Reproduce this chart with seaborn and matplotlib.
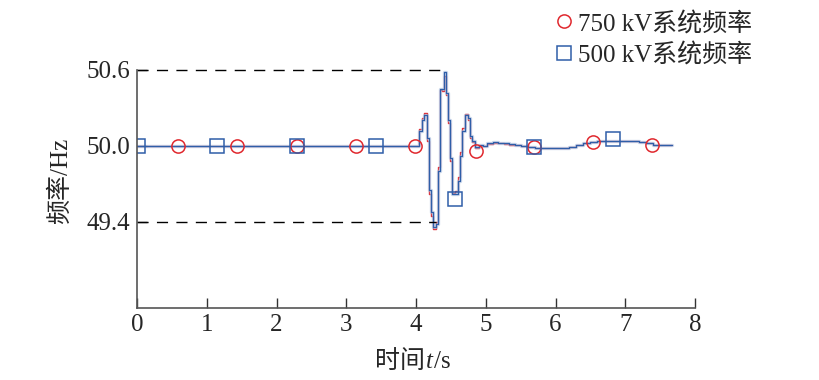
import numpy as np
import pandas as pd
import seaborn as sns
import matplotlib.pyplot as plt

# Временной ряд частоты (ступенчатый)
t = [0, 4.05, 4.08, 4.12, 4.16, 4.19, 4.22, 4.25, 4.28, 4.31, 4.34, 4.37, 4.40, 4.43,
     4.46, 4.49, 4.52, 4.56, 4.60, 4.63, 4.66, 4.70, 4.74, 4.77, 4.80, 4.84, 4.90, 4.96,
     5.02, 5.10, 5.18, 5.26, 5.34, 5.42, 5.50, 5.60, 5.70, 6.20, 6.30, 6.40, 6.50, 6.60,
     6.80, 7.00, 7.20, 7.30, 7.40, 7.50, 7.67]
f500 = [50.0, 50.12, 50.20, 50.24, 50.06, 49.65, 49.48, 49.36, 49.38, 49.80, 50.45, 50.45,
        50.58, 50.42, 50.20, 49.90, 49.62, 49.62, 49.72, 49.92, 50.12, 50.24, 50.22, 50.08,
        50.04, 49.99, 50.01, 50.00, 50.02, 50.03, 50.02, 50.02, 50.015, 50.01, 50.0, 49.99,
        49.985, 49.99, 50.01, 50.025, 50.03, 50.035, 50.04, 50.035, 50.03, 50.02, 50.01,
        50.005, 50.005]
f750 = [50.0, 50.13, 50.22, 50.26, 50.04, 49.62, 49.45, 49.34, 49.40, 49.83, 50.44, 50.43,
        50.55, 50.40, 50.18, 49.88, 49.63, 49.64, 49.75, 49.95, 50.14, 50.25, 50.20, 50.06,
        50.03, 49.98, 50.00, 50.00, 50.015, 50.025, 50.02, 50.015, 50.01, 50.005, 49.995,
        49.99, 49.985, 49.99, 50.005, 50.02, 50.03, 50.035, 50.04, 50.035, 50.03, 50.02,
        50.01, 50.005, 50.005]

# Маркеры
t_circ = [0.59, 1.43, 2.29, 3.14, 3.99, 4.86, 5.69, 6.54, 7.38]
f_circ = [50.0, 50.0, 50.0, 50.0, 50.0, 49.96, 49.99, 50.03, 50.01]
t_sq = [0.01, 1.15, 2.29, 3.43, 4.56, 5.69, 6.83]
f_sq = [50.0, 50.0, 50.0, 50.0, 49.58, 49.99, 50.055]

yticks = [49.4, 50.0, 50.6]
ytick_labels = ['49.4', '50.0', '50.6']
xticks = list(range(0, 9))

sns.set_style('ticks')
plt.rcParams['font.family'] = ['Liberation Serif', 'Noto Sans CJK SC']

red = '#e0282e'
blue = '#2f5ea8'

fig = plt.figure(figsize=(8.19, 3.8), dpi=100)
ax = fig.add_axes([137 / 819, 1 - 308 / 380, (695 - 137) / 819, (308 - 54.6) / 380])

df = pd.DataFrame({'t': t, 'f500': f500, 'f750': f750})
sns.lineplot(data=df, x='t', y='f750', ax=ax, color=red, lw=1.0, drawstyle='steps-post',
             estimator=None)
sns.lineplot(data=df, x='t', y='f500', ax=ax, color='#a9bedf', lw=2.4, drawstyle='steps-post',
             estimator=None, alpha=0.6)
sns.lineplot(data=df, x='t', y='f500', ax=ax, color=blue, lw=0.9, drawstyle='steps-post',
             estimator=None)

ax.plot(t_circ, f_circ, ls='none', marker='o', ms=9.5, mfc='none', mec=red, mew=1.1,
        label='750 kV系统频率')
ax.plot(t_sq, f_sq, ls='none', marker='s', ms=9.5, mfc='none', mec=blue, mew=1.1,
        label='500 kV系统频率')

# Пунктирные уровни
ax.plot([0, 4.42], [50.6, 50.6], color='black', lw=1.0, dashes=(8, 6))
ax.plot([0, 4.28], [49.4, 49.4], color='black', lw=1.0, dashes=(8, 6))

ax.set_xlim(0, 8)
ax.set_ylim(48.72, 50.72)
ax.set_xticks(xticks)
ax.set_yticks(yticks)
ax.set_yticklabels(ytick_labels)
ax.tick_params(axis='both', direction='in', length=7, width=1, color='#333333',
               labelsize=18)
ax.tick_params(axis='y', pad=5)
ax.tick_params(axis='x', pad=4)
for side in ['top', 'right']:
    ax.spines[side].set_visible(False)
for side in ['left', 'bottom']:
    ax.spines[side].set_color('#555555')
    ax.spines[side].set_linewidth(1.2)
ax.spines['left'].set_bounds(48.72, 50.6)

ax.set_xlabel('')
ax.set_ylabel('频率/Hz', fontsize=18, labelpad=10)

# Подпись оси X из частей: курсивная t
parts = [('时间', 'normal'), ('t', 'italic'), ('/s', 'normal')]
gap = 1
fig.canvas.draw()
r = fig.canvas.get_renderer()
texts = [fig.text(0, 1 - 362 / 380, s, fontsize=18, style=st, va='center') for s, st in parts]
widths = [tx.get_window_extent(r).width for tx in texts]
x = 413 - (sum(widths) + gap * 2) / 2
for tx, w in zip(texts, widths):
    tx.set_x(x / 819)
    x += w + gap

ax.legend(loc='upper left', bbox_to_anchor=(539 / 819, 1.01), bbox_transform=fig.transFigure,
          frameon=False, fontsize=18, handlelength=0.8, handletextpad=0.15, borderpad=0.1,
          labelspacing=0.3)

fig.savefig('out.png', dpi=100)
